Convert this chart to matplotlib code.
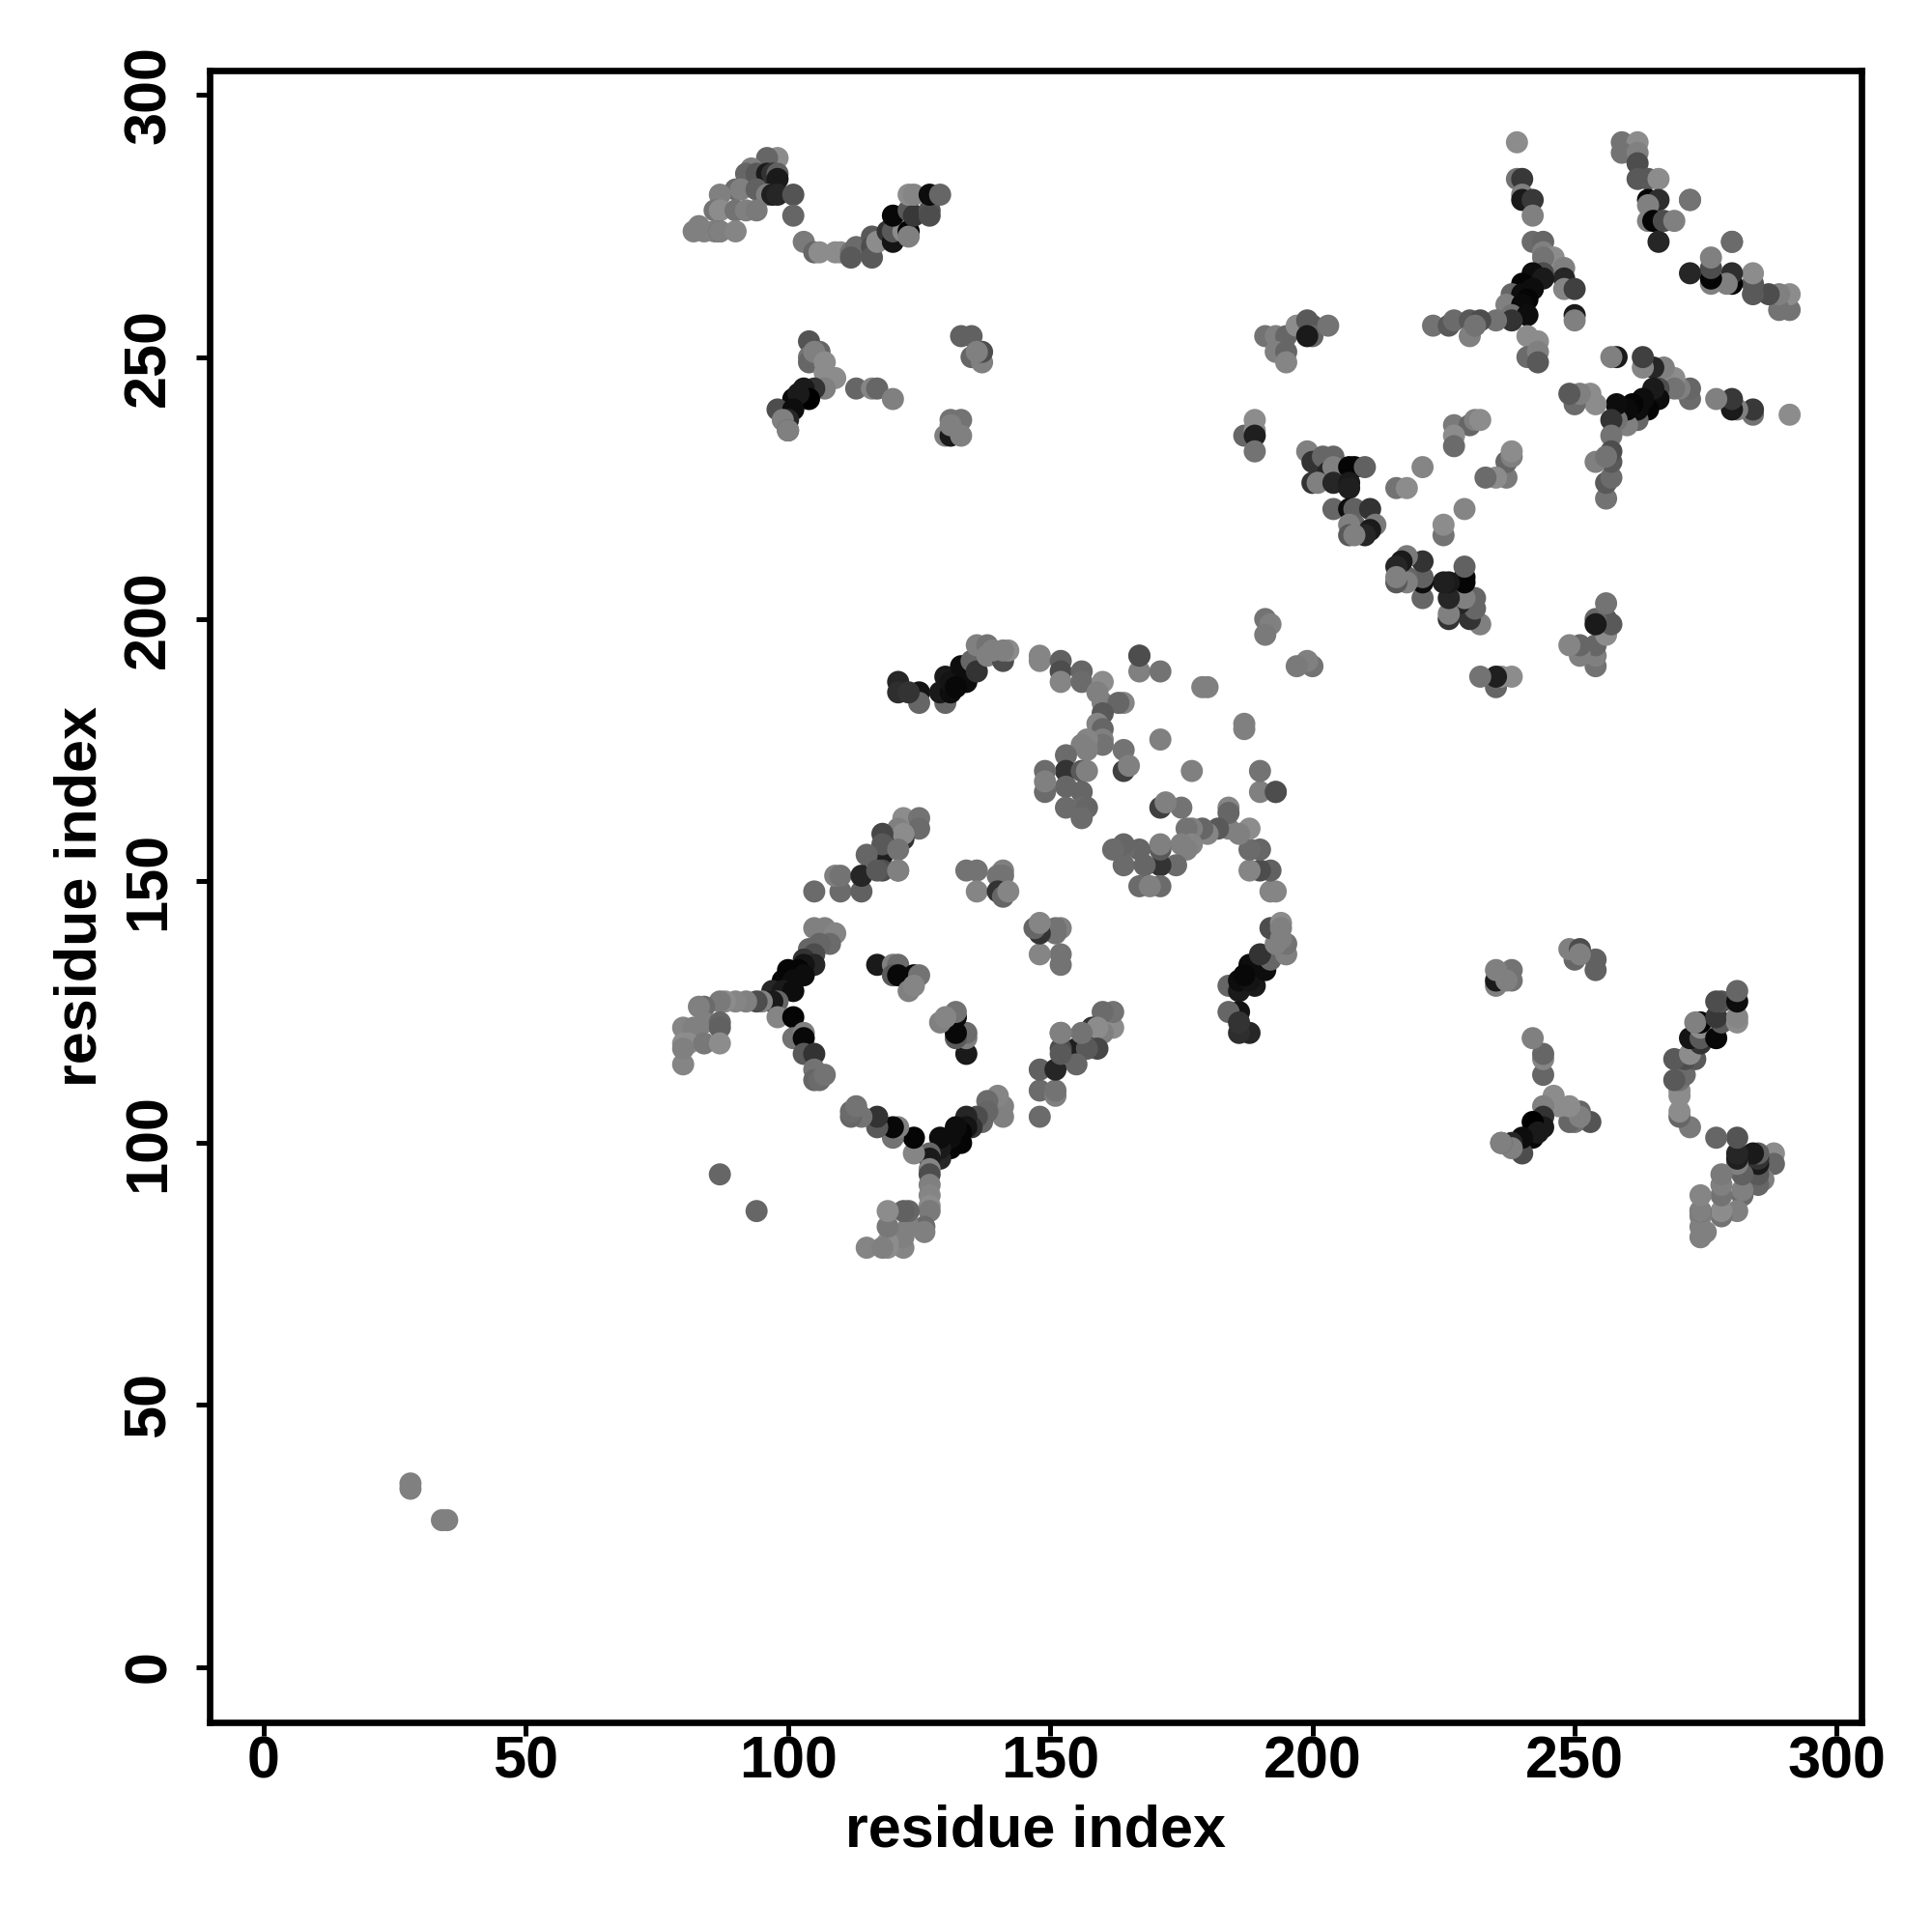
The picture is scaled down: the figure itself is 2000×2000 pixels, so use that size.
import numpy as np
import matplotlib
matplotlib.use("Agg")
import matplotlib.pyplot as plt

plt.rcParams['font.family'] = ['Liberation Sans', 'DejaVu Sans']

# contacts are symmetric, only the y > x half is listed and mirrored below
far_i = [28, 28, 87]
far_j = [35, 34, 94]
far_g = [.5, .5, .4]

arm_a_i = [98, 96, 93, 92, 94, 96, 97, 98, 98, 90, 91, 94, 87, 96, 97, 98, 101, 101, 86, 87, 90, 92, 94, 82, 83, 84, 86, 87, 87, 90]
arm_a_j = [288, 288, 286, 285, 285, 285, 285, 285, 284, 282, 282, 282, 281, 281, 281, 281, 281, 277, 278, 278, 278, 278, 278, 274, 275, 274, 274, 274, 274, 274]
arm_a_g = [.55, .4, .5, .4, .35, .1, .2, .38, .1, .42, .5, .38, .5, .5, .12, .15, .33, .4, .45, .55, .45, .5, .48, .5, .5, .5, .5, .3, .5, .52]

arm_b_i = [103, 105, 106, 109, 110, 112, 113, 112, 116, 116, 116, 117, 119, 120, 120, 122, 123, 123, 120, 123, 124, 127, 127, 123, 124, 127, 129]
arm_b_j = [272, 270, 270, 270, 270, 270, 271, 269, 273, 271, 269, 272, 274, 272, 274, 274, 274, 273, 277, 278, 277, 278, 277, 281, 281, 281, 281]
arm_b_g = [.48, .4, .55, .55, .55, .45, .42, .35, .35, .3, .35, .55, .2, .08, .35, .55, .0, .5, .03, .35, .22, .33, .3, .55, .52, .05, .4]

arm_c_i = [104, 104, 104, 106, 105, 107, 107, 109, 107, 105, 103, 104, 101, 102, 98, 101, 100, 99, 100, 100, 113, 116, 117, 120]
arm_c_j = [253, 250, 249, 251, 251, 249, 247, 246, 244, 244, 244, 242, 242, 243, 240, 240, 238, 238, 236, 236, 244, 244, 244, 242]
arm_c_g = [.33, .45, .4, .4, .5, .55, .55, .55, .5, .2, .1, .0, .03, .1, .3, .05, .15, .5, .3, .5, .4, .52, .4, .5]

arm_d_i = [133, 135, 135, 137, 137, 136, 131, 133, 130, 131, 133, 131]
arm_d_j = [254, 254, 250, 249, 251, 251, 238, 238, 235, 235, 235, 237]
arm_d_g = [.38, .38, .4, .5, .3, .5, .45, .45, .5, .1, .5, .5]

star_top_i = [259, 262, 259, 262, 262, 262, 264, 266, 264, 266, 264, 264, 265, 267, 269, 266, 272, 280]
star_top_j = [291, 291, 289, 289, 287, 284, 284, 284, 280, 280, 279, 276, 276, 276, 276, 272, 280, 272]
star_top_g = [.45, .55, .45, .5, .3, .35, .35, .55, .02, .18, .5, .5, .02, .3, .5, .15, .42, .45]

star_mid_i = [239, 239, 240, 240, 240, 242, 242, 242, 244, 244, 246, 248, 248, 248, 250, 244, 244, 242, 244, 240, 242, 242, 238, 240, 241, 237, 240, 238, 241, 238, 235, 250, 250]
star_mid_j = [291, 284, 284, 281, 280, 280, 277, 272, 272, 270, 269, 267, 265, 263, 263, 269, 266, 266, 265, 264, 263, 263, 262, 262, 261, 260, 260, 258, 258, 257, 257, 258, 257]
star_mid_g = [.55, .45, .22, .5, .1, .22, .5, .42, .4, .5, .55, .5, .15, .52, .25, .45, .3, .05, .1, .02, .05, .05, .4, .05, .02, .5, .04, .45, .05, .2, .45, .1, .5]

star_low_i = [223, 226, 227, 230, 230, 232, 231, 241, 243, 241, 243, 243]
star_low_j = [256, 256, 257, 257, 254, 257, 256, 254, 253, 250, 251, 249]
star_low_g = [.45, .35, .42, .35, .5, .3, .45, .55, .55, .42, .5, .35]

mid_a_i = [191, 193, 195, 197, 199, 200, 200, 203, 193, 195, 195, 199, 189, 187, 189, 189, 189]
mid_a_j = [254, 254, 254, 256, 257, 256, 254, 256, 251, 251, 249, 254, 238, 235, 236, 235, 232]
mid_a_g = [.45, .5, .4, .55, .35, .35, .4, .45, .5, .4, .52, .1, .55, .4, .55, .12, .45]

mid_b_i = [199, 200, 202, 204, 203, 204, 207, 208, 210, 200, 201, 204, 207, 207, 204, 207, 208, 211, 208, 207, 212, 211, 210, 207, 208]
mid_b_j = [232, 230, 231, 231, 228, 229, 229, 229, 229, 226, 226, 226, 226, 225, 221, 221, 221, 221, 218, 218, 218, 217, 216, 216, 216]
mid_b_g = [.5, .2, .4, .4, .15, .5, .02, .02, .38, .2, .5, .15, .1, .12, .4, .05, .38, .2, .4, .5, .48, .1, .15, .35, .5]

mid_c_i = [221, 216, 218, 227, 230, 231, 232, 227, 227, 191, 192, 191]
mid_c_j = [229, 225, 225, 237, 237, 238, 238, 235, 233, 200, 199, 197]
mid_c_g = [.52, .45, .55, .48, .4, .5, .55, .55, .42, .45, .5, .48]

ridge_i = [121, 121, 125, 125, 123, 130, 129, 131, 130, 131, 133, 134, 132, 135, 136, 136, 138, 138, 141, 142, 139, 141]
ridge_j = [188, 186, 186, 184, 186, 184, 186, 186, 189, 188, 191, 188, 187, 192, 190, 195, 195, 193, 192, 194, 194, 194]
ridge_g = [.15, .18, .08, .4, .2, .4, .1, .05, .1, .08, .05, .05, .03, .4, .2, .5, .45, .5, .3, .55, .5, .5]

fan_i = [148, 148, 152, 152, 152, 156, 156, 160, 159, 160, 164, 163, 160, 159, 160, 160, 160, 157, 156, 157, 153, 153, 156, 157, 149, 149, 153, 156, 153, 156, 157, 156, 149, 164, 164, 165, 167, 167, 167, 171, 180, 179, 171]
fan_j = [193, 192, 192, 190, 188, 190, 188, 188, 186, 184, 184, 184, 182, 180, 179, 177, 176, 177, 176, 175, 174, 171, 171, 171, 171, 167, 168, 167, 164, 164, 164, 162, 169, 175, 171, 172, 193, 190, 193, 190, 187, 187, 177]
fan_g = [.52, .52, .38, .3, .52, .4, .42, .55, .5, .5, .52, .4, .35, .52, .4, .5, .45, .52, .5, .5, .42, .2, .35, .5, .42, .42, .4, .4, .42, .42, .4, .42, .5, .45, .25, .5, .5, .5, .3, .45, .5, .5, .5]

ring_a_i = [122, 125, 125, 121, 122, 122, 118, 118, 118, 121, 121, 118, 115, 105, 110, 114, 109, 110, 114, 117, 121, 134, 136, 141, 141, 140, 136, 140, 141, 142]
ring_a_j = [162, 162, 160, 160, 158, 159, 159, 155, 157, 156, 152, 152, 155, 148, 148, 148, 151, 151, 151, 152, 152, 152, 152, 152, 151, 151, 148, 148, 147, 148]
ring_a_g = [.55, .45, .42, .5, .2, .55, .28, .12, .35, .45, .45, .3, .4, .42, .42, .38, .5, .45, .15, .35, .5, .45, .45, .5, .45, .45, .52, .2, .4, .52]

ring_b_i = [105, 107, 109, 108, 106, 104, 105, 103, 105, 103, 100, 102, 103, 99, 101, 97, 99, 101, 98, 97, 95, 94, 92, 90, 88, 87, 84, 83]
ring_b_j = [141, 141, 140, 138, 138, 137, 136, 135, 134, 134, 133, 133, 132, 131, 131, 129, 129, 129, 127, 127, 127, 127, 127, 127, 127, 127, 126, 126]
ring_b_g = [.5, .5, .52, .42, .4, .4, .3, .2, .15, .08, .02, .02, .05, .02, .05, .15, .1, .05, .4, .1, .52, .3, .5, .52, .55, .48, .42, .5]

ring_c_i = [80, 82, 84, 87, 87, 80, 81, 84, 87, 80, 80, 98, 101, 101, 103, 103, 103, 105, 105, 105, 106, 107, 117, 120, 121, 120, 121, 124, 125, 123, 124]
ring_c_j = [122, 122, 123, 123, 122, 119, 119, 119, 119, 115, 118, 124, 124, 120, 121, 120, 117, 117, 114, 112, 112, 113, 134, 134, 134, 132, 132, 132, 132, 129, 130]
ring_c_g = [.52, .5, .5, .4, .38, .55, .55, .47, .55, .52, .5, .52, .02, .45, .5, .03, .35, .2, .45, .4, .42, .45, .1, .5, .42, .35, .03, .03, .45, .5, .52]

tick_vals = [0, 50, 100, 150, 200, 250, 300]

all_i = np.array(far_i + arm_a_i + arm_b_i + arm_c_i + arm_d_i + star_top_i + star_mid_i + star_low_i
                 + mid_a_i + mid_b_i + mid_c_i + ridge_i + fan_i + ring_a_i + ring_b_i + ring_c_i)
all_j = np.array(far_j + arm_a_j + arm_b_j + arm_c_j + arm_d_j + star_top_j + star_mid_j + star_low_j
                 + mid_a_j + mid_b_j + mid_c_j + ridge_j + fan_j + ring_a_j + ring_b_j + ring_c_j)
all_g = np.array(far_g + arm_a_g + arm_b_g + arm_c_g + arm_d_g + star_top_g + star_mid_g + star_low_g
                 + mid_a_g + mid_b_g + mid_c_g + ridge_g + fan_g + ring_a_g + ring_b_g + ring_c_g)

fig = plt.figure(figsize=(10, 10), dpi=200)
ax = fig.add_axes([217 / 2000, 1 - 1783 / 2000, 1710 / 2000, 1710 / 2000])

colors = [str(g) for g in all_g]
ax.scatter(all_i, all_j, s=68, c=colors, linewidths=0, zorder=2)
ax.scatter(all_j, all_i, s=68, c=colors, linewidths=0, zorder=2)

ax.set_xlim(-10.3, 304.7)
ax.set_ylim(-10.6, 304.7)
ax.set_xticks(tick_vals)
ax.set_yticks(tick_vals)
ax.tick_params(length=5, width=1.8, labelsize=22)
ax.tick_params(axis='x', pad=0)
ax.tick_params(axis='y', pad=7)
for lab in ax.get_xticklabels():
    lab.set_fontweight('bold')
for lab in ax.get_yticklabels():
    lab.set_fontweight('bold')
    lab.set_rotation(90)
    lab.set_va('center')
for sp in ax.spines.values():
    sp.set_linewidth(2.4)

ax.set_xlabel("residue index", fontsize=22, fontweight='bold', labelpad=5)
ax.set_ylabel("residue index", fontsize=22, fontweight='bold', labelpad=5)

fig.savefig("out.png", dpi=200)
